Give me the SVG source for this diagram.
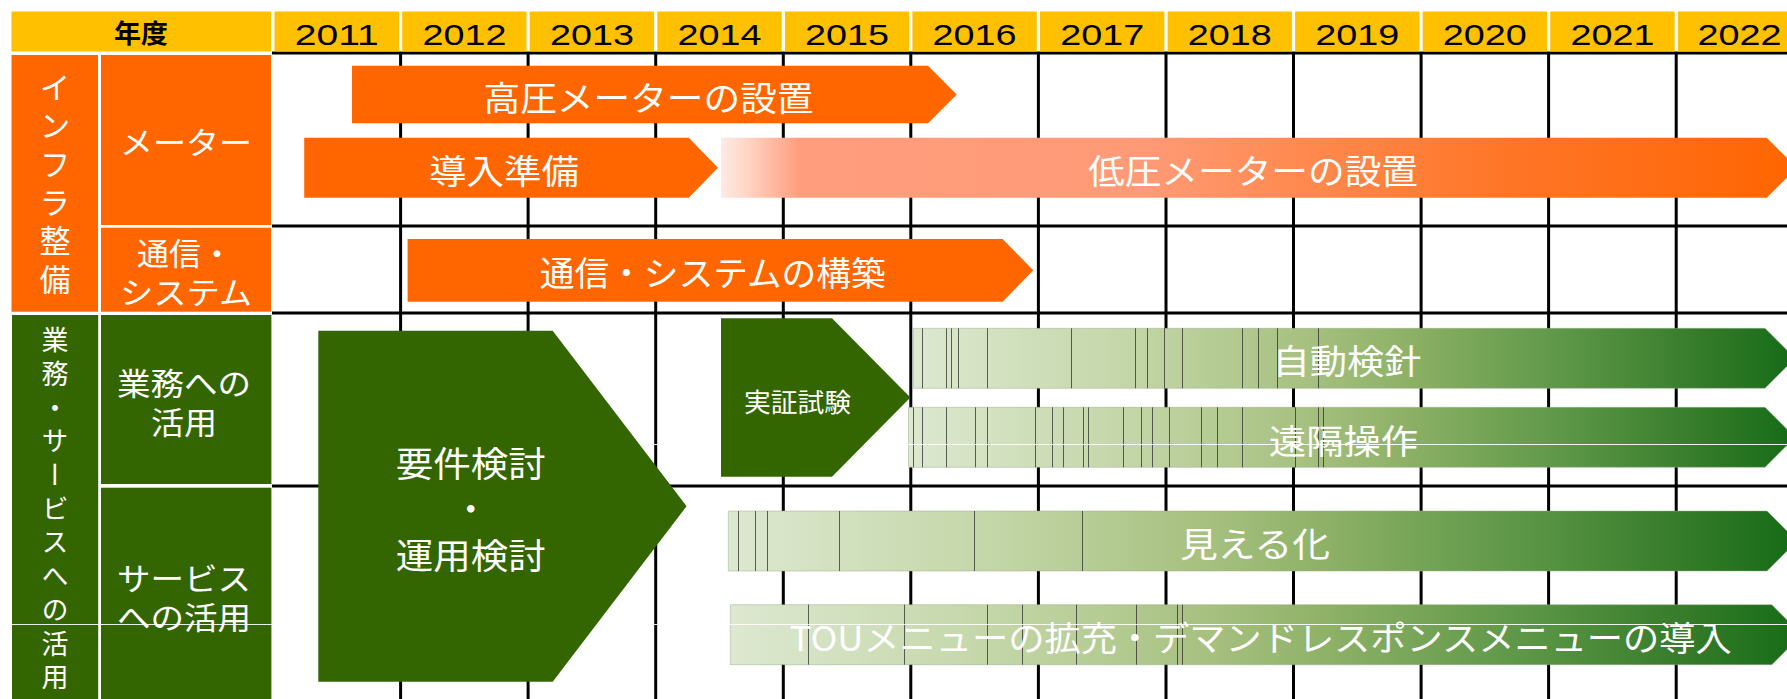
<svg xmlns="http://www.w3.org/2000/svg" width="1787" height="699" viewBox="0 0 1787 699">
<defs>
<style>
.jp{font-family:"Noto Sans CJK JP","Noto Sans",sans-serif;fill:#fff;dominant-baseline:central;text-anchor:middle;}
.yr{font-family:"Liberation Sans",Arial,sans-serif;font-size:30px;fill:#000;text-anchor:middle;}
.grid{stroke:#000;stroke-width:3;fill:none;}
.org{fill:#FF6600;}
.dg{fill:#336600;}
.hdr{fill:#FFC000;}
.art{stroke:#2e2e2e;stroke-width:1;opacity:0.75;fill:none;}
.wl{stroke:#fff;stroke-width:1.2;opacity:0.9;}
.gbar{stroke:#98a888;stroke-width:0.8;stroke-opacity:0.6;}
</style>
<linearGradient id="lowg" gradientUnits="userSpaceOnUse" x1="721" y1="0" x2="1787" y2="0">
<stop offset="0" stop-color="#FFEBE4"/>
<stop offset="0.025" stop-color="#FFD4C4"/>
<stop offset="0.074" stop-color="#FF9D7D"/>
<stop offset="0.40" stop-color="#FF9A76"/>
<stop offset="0.54" stop-color="#FF8A50"/>
<stop offset="0.73" stop-color="#FF7628"/>
<stop offset="0.92" stop-color="#FF6A0E"/>
<stop offset="1" stop-color="#FF6600"/>
</linearGradient>
<linearGradient id="grg" x1="0" y1="0" x2="1" y2="0">
<stop offset="0" stop-color="#DDE8D0"/>
<stop offset="0.25" stop-color="#C3D6A7"/>
<stop offset="0.45" stop-color="#A6C07F"/>
<stop offset="0.56" stop-color="#8DB166"/>
<stop offset="0.75" stop-color="#5A9545"/>
<stop offset="0.9" stop-color="#337A28"/>
<stop offset="1" stop-color="#156B17"/>
</linearGradient>
</defs>
<rect width="1787" height="699" fill="#fff"/>

<g id="grid">
<path class="grid" d="M272 53H1787M272 226H1787M272 313H1787M272 486H1787"/>
<path class="grid" d="M400.6 53V699M528.1 53V699M655.7 53V699M783.3 53V699M910.8 53V699M1038.4 53V699M1166 53V699M1293.5 53V699M1421.1 53V699M1548.6 53V699M1676.2 53V699"/>
</g>

<g id="header">
<rect class="hdr" x="11.5" y="11.5" width="259.5" height="40"/>
<rect class="hdr" x="274.5" y="11.5" width="124.5" height="40"/>
<rect class="hdr" x="402.2" y="11.5" width="124.3" height="40"/>
<rect class="hdr" x="529.7" y="11.5" width="124.4" height="40"/>
<rect class="hdr" x="657.3" y="11.5" width="124.4" height="40"/>
<rect class="hdr" x="784.9" y="11.5" width="124.3" height="40"/>
<rect class="hdr" x="912.4" y="11.5" width="124.4" height="40"/>
<rect class="hdr" x="1040" y="11.5" width="124.4" height="40"/>
<rect class="hdr" x="1167.6" y="11.5" width="124.3" height="40"/>
<rect class="hdr" x="1295.1" y="11.5" width="124.4" height="40"/>
<rect class="hdr" x="1422.7" y="11.5" width="124.3" height="40"/>
<rect class="hdr" x="1550.2" y="11.5" width="124.4" height="40"/>
<rect class="hdr" x="1677.8" y="11.5" width="110" height="40"/>
<text x="141" y="31.5" style="font-family:'Noto Sans CJK JP',sans-serif;font-size:26px;font-weight:bold;dominant-baseline:central;text-anchor:middle" textLength="54" lengthAdjust="spacingAndGlyphs">年度</text>
<text class="yr" x="336.8" y="45" textLength="84" lengthAdjust="spacingAndGlyphs">2011</text>
<text class="yr" x="464.4" y="45" textLength="84" lengthAdjust="spacingAndGlyphs">2012</text>
<text class="yr" x="591.9" y="45" textLength="84" lengthAdjust="spacingAndGlyphs">2013</text>
<text class="yr" x="719.5" y="45" textLength="84" lengthAdjust="spacingAndGlyphs">2014</text>
<text class="yr" x="847" y="45" textLength="84" lengthAdjust="spacingAndGlyphs">2015</text>
<text class="yr" x="974.6" y="45" textLength="84" lengthAdjust="spacingAndGlyphs">2016</text>
<text class="yr" x="1102.2" y="45" textLength="84" lengthAdjust="spacingAndGlyphs">2017</text>
<text class="yr" x="1229.7" y="45" textLength="84" lengthAdjust="spacingAndGlyphs">2018</text>
<text class="yr" x="1357.3" y="45" textLength="84" lengthAdjust="spacingAndGlyphs">2019</text>
<text class="yr" x="1484.8" y="45" textLength="84" lengthAdjust="spacingAndGlyphs">2020</text>
<text class="yr" x="1612.4" y="45" textLength="84" lengthAdjust="spacingAndGlyphs">2021</text>
<text class="yr" x="1739.5" y="45" textLength="84" lengthAdjust="spacingAndGlyphs">2022</text>
</g>

<g id="cat-infra">
<rect class="org" x="11.5" y="55" width="86.5" height="256.7"/>
<text class="jp" x="55" y="71.5" style="font-size:31px;writing-mode:vertical-rl;text-anchor:start;letter-spacing:7.4px">インフラ整備</text>
</g>
<g id="sub-meter">
<rect class="org" x="101" y="55" width="170" height="170"/>
<text class="jp" x="186" y="140" font-size="31" textLength="132" lengthAdjust="spacingAndGlyphs">メーター</text>
</g>
<g id="sub-comm">
<rect class="org" x="101" y="227.7" width="170" height="84"/>
<text class="jp" x="185" y="251" font-size="31" textLength="96" lengthAdjust="spacingAndGlyphs">通信・</text>
<text class="jp" x="186" y="290" font-size="31" textLength="132" lengthAdjust="spacingAndGlyphs">システム</text>
</g>
<g id="cat-service">
<rect class="dg" x="12" y="315" width="86.2" height="384"/>
<text class="jp" x="55" y="326.5" style="font-size:27px;writing-mode:vertical-rl;text-anchor:start;letter-spacing:6.7px">業務・サービスへの活用</text>
</g>
<g id="sub-business">
<rect class="dg" x="101" y="315" width="170.4" height="169"/>
<text class="jp" x="184" y="381.7" font-size="31" textLength="134" lengthAdjust="spacingAndGlyphs">業務への</text>
<text class="jp" x="184" y="420" font-size="31" textLength="66" lengthAdjust="spacingAndGlyphs">活用</text>
</g>
<g id="sub-service">
<rect class="dg" x="101" y="487.7" width="170.4" height="211.3"/>
<text class="jp" x="184" y="576" font-size="31" textLength="134" lengthAdjust="spacingAndGlyphs">サービス</text>
<text class="jp" x="184" y="615" font-size="31" textLength="134" lengthAdjust="spacingAndGlyphs">への活用</text>
</g>

<g id="bar-auto-reading">
<path class="gbar" fill="url(#grg)" d="M913.4 328.3H1765L1795 358.3L1765 388.3H913.4Z"/>
<path class="art" d="M922.5 328.3V388.3M946.5 328.3V388.3M951.5 328.3V388.3M958.5 328.3V388.3M987.5 328.3V388.3M1071.5 328.3V388.3M1135.5 328.3V388.3M1147.5 328.3V388.3M1164.5 328.3V388.3M1182.5 328.3V388.3M1242.5 328.3V388.3M1258.5 328.3V388.3M1277.5 328.3V388.3M1318.5 328.3V388.3"/>
</g>
<g id="bar-remote">
<path class="gbar" fill="url(#grg)" d="M908.5 407.3H1765L1795 437.3L1765 467.3H908.5Z"/>
<path class="art" d="M913.5 407.3V467.3M922.5 407.3V467.3M946.5 407.3V467.3M975.5 407.3V467.3M987.5 407.3V467.3M1035.5 407.3V467.3M1052.5 407.3V467.3M1063.5 407.3V467.3M1083.5 407.3V467.3M1088.5 407.3V467.3M1123.5 407.3V467.3M1141.5 407.3V467.3M1152.5 407.3V467.3M1169.5 407.3V467.3M1201.5 407.3V467.3M1217.5 407.3V467.3M1242.5 407.3V467.3M1295.5 407.3V467.3M1318.5 407.3V467.3M1323.5 407.3V467.3"/>
</g>
<g id="bar-visual">
<path class="gbar" fill="url(#grg)" d="M728.3 511H1767L1797 541L1767 571H728.3Z"/>
<path class="art" d="M738.5 511V571M755.5 511V571M767.5 511V571M839.5 511V571M974.5 511V571M1082.5 511V571"/>
</g>
<g id="bar-tou">
<path class="gbar" fill="url(#grg)" d="M730.3 604.7H1771.8L1801.8 634.7L1771.8 664.7H730.3Z"/>
<path class="art" d="M808.5 604.7V664.7M904.5 604.7V664.7M987.5 604.7V664.7M1022.5 604.7V664.7M1076.5 604.7V664.7M1136.5 604.7V664.7M1177.5 604.7V664.7M1182.5 604.7V664.7"/>
</g>

<g id="thin-lines">
<path class="wl" d="M272 444.5H1787M12 624.5H1787"/>
</g>

<g id="req-study">
<path class="dg" d="M318.3 330.7H552.7L686.6 506.2L552.7 681.7H318.3Z"/>
<text class="jp" x="470.8" y="461.7" font-size="35" textLength="150" lengthAdjust="spacingAndGlyphs">要件検討</text>
<text class="jp" x="470.8" y="506.7" font-size="35">・</text>
<text class="jp" x="470.8" y="553" font-size="35" textLength="150" lengthAdjust="spacingAndGlyphs">運用検討</text>
</g>
<g id="pilot-test">
<path class="dg" d="M721 318.3H832L910.4 397.5L832 476.7H721Z"/>
<text class="jp" x="797.5" y="400" font-size="26" textLength="107" lengthAdjust="spacingAndGlyphs">実証試験</text>
</g>

<g id="bar-hv-meter">
<path class="org" d="M352 65.7H928L956.7 94.5L928 123.3H352Z"/>
<text class="jp" x="648.5" y="96.7" font-size="34" textLength="330" lengthAdjust="spacingAndGlyphs">高圧メーターの設置</text>
</g>
<g id="bar-prep">
<path class="org" d="M304.2 137.7H688.8L717.9 167.7L688.8 197.7H304.2Z"/>
<text class="jp" x="504" y="169.3" font-size="34" textLength="150" lengthAdjust="spacingAndGlyphs">導入準備</text>
</g>
<g id="bar-lv-meter">
<path fill="url(#lowg)" d="M721 137.7H1766.7L1796.7 167.7L1766.7 197.7H721Z"/>
<text class="jp" x="1253" y="169.3" font-size="34" textLength="330" lengthAdjust="spacingAndGlyphs">低圧メーターの設置</text>
</g>
<g id="bar-comm-sys">
<path class="org" d="M407.6 239H1002.6L1033.2 270.3L1002.6 301.7H407.6Z"/>
<text class="jp" x="712.7" y="271.5" font-size="34" textLength="346" lengthAdjust="spacingAndGlyphs">通信・システムの構築</text>
</g>

<g id="bar-labels">
<text class="jp" x="1347" y="359" font-size="34" textLength="149" lengthAdjust="spacingAndGlyphs">自動検針</text>
<text class="jp" x="1343.5" y="439" font-size="34" textLength="149" lengthAdjust="spacingAndGlyphs">遠隔操作</text>
<text class="jp" x="1255" y="542.5" font-size="34" textLength="150" lengthAdjust="spacingAndGlyphs">見える化</text>
<text class="jp" x="1260.7" y="636" font-size="34" textLength="942" lengthAdjust="spacingAndGlyphs">TOUメニューの拡充・デマンドレスポンスメニューの導入</text>
</g>
</svg>
